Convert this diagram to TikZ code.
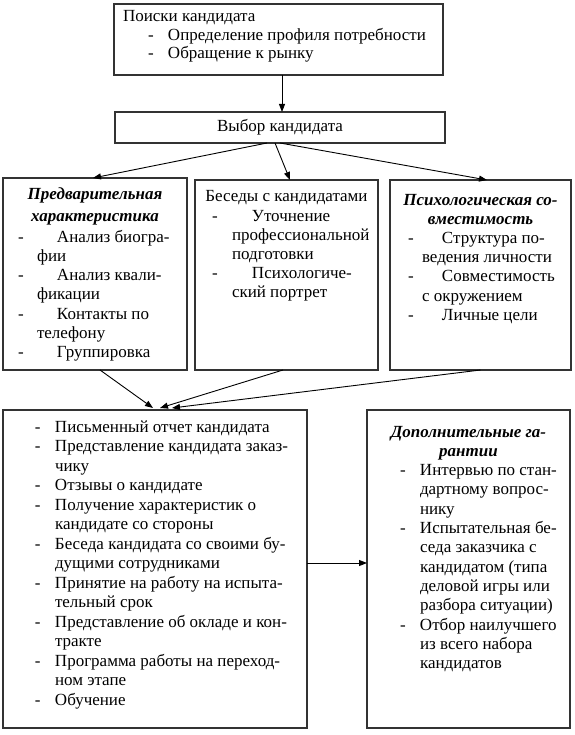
\documentclass[tikz,border=0pt]{standalone}
\usepackage{fontspec}
\setmainfont{Liberation Serif}
\usetikzlibrary{arrows.meta}
\newcommand{\dl}[3]{\makebox[#2][l]{\hspace*{#1}-}#3}
\tikzset{
  box/.style={draw=black!80, line width=1.2pt, rectangle, anchor=north west, inner sep=0pt, outer sep=0pt},
  txt/.style={anchor=base west, inner sep=0pt, outer sep=0pt},
  arr/.style={line width=0.9pt, -{Triangle[length=8pt,width=6pt]}}
}
\begin{document}
\begin{tikzpicture}[x=1pt,y=-1pt]
\useasboundingbox (0,0) rectangle (574,735);
% boxes
\node[box, minimum width=329pt, minimum height=71pt] (top) at (114,4) {};
\node[box, minimum width=330pt, minimum height=31pt, font=\fontsize{17}{19}\selectfont] (vybor) at (115,112) {Выбор кандидата};
\node[box, minimum width=184pt, minimum height=192pt] (left) at (3,178) {};
\node[box, minimum width=183pt, minimum height=190pt] (mid) at (195,180) {};
\node[box, minimum width=181pt, minimum height=190pt] (right) at (390,180) {};
\node[box, minimum width=304pt, minimum height=318pt] (bl) at (3,410) {};
\node[box, minimum width=203pt, minimum height=318pt] (br) at (367,410) {};
% texts
\node[txt] (ttop) at (123,22) {\parbox[t]{400pt}{\fontsize{17}{18.5}\selectfont
Поиски кандидата\\
\dl{25pt}{45pt}{Определение профиля потребности}\\
\dl{25pt}{45pt}{Обращение к рынку}}};
\node[txt] (tleft) at (3,200) {\parbox[t]{400pt}{\fontsize{17}{19.2}\selectfont
\makebox[184pt][c]{\bfseries\itshape Предварительная}\\[2pt]
\makebox[184pt][c]{\bfseries\itshape характеристика}\\[2pt]
\dl{15pt}{54pt}{Анализ биогра-}\\
\hspace*{34pt}фии\\
\dl{15pt}{54pt}{Анализ квали-}\\
\hspace*{34pt}фикации\\
\dl{15pt}{54pt}{Контакты по}\\
\hspace*{34pt}телефону\\
\dl{15pt}{54pt}{Группировка}}};
\node[txt] (tmid) at (195,202) {\parbox[t]{400pt}{\fontsize{17}{19.2}\selectfont
\makebox[183pt][c]{Беседы с кандидатами}\\
\dl{17pt}{57pt}{Уточнение}\\
\hspace*{37pt}профессиональной\\
\hspace*{37pt}подготовки\\
\dl{17pt}{57pt}{Психологиче-}\\
\hspace*{37pt}ский портрет}};
\node[txt] (tright) at (390,205) {\parbox[t]{400pt}{\fontsize{17}{19.2}\selectfont
\makebox[181pt][c]{\bfseries\itshape Психологическая со-}\\
\makebox[181pt][c]{\bfseries\itshape вместимость}\\
\dl{18pt}{52pt}{Структура по-}\\
\hspace*{32pt}ведения личности\\
\dl{18pt}{52pt}{Совместимость}\\
\hspace*{32pt}с окружением\\
\dl{18pt}{52pt}{Личные цели}}};
\node[txt] (tbl) at (3,432) {\parbox[t]{400pt}{\fontsize{17}{19.5}\selectfont
\dl{32pt}{52pt}{Письменный отчет кандидата}\\
\dl{32pt}{52pt}{Представление кандидата заказ-}\\
\hspace*{52pt}чику\\
\dl{32pt}{52pt}{Отзывы о кандидате}\\
\dl{32pt}{52pt}{Получение характеристик о}\\
\hspace*{52pt}кандидате со стороны\\
\dl{32pt}{52pt}{Беседа кандидата со своими бу-}\\
\hspace*{52pt}дущими сотрудниками\\
\dl{32pt}{52pt}{Принятие на работу на испыта-}\\
\hspace*{52pt}тельный срок\\
\dl{32pt}{52pt}{Представление об окладе и кон-}\\
\hspace*{52pt}тракте\\
\dl{32pt}{52pt}{Программа работы на переход-}\\
\hspace*{52pt}ном этапе\\
\dl{32pt}{52pt}{Обучение}}};
\node[txt] (tbr) at (367,437) {\parbox[t]{400pt}{\fontsize{17}{19.3}\selectfont
\makebox[203pt][c]{\bfseries\itshape Дополнительные га-}\\
\makebox[203pt][c]{\bfseries\itshape рантии}\\
\dl{33pt}{53pt}{Интервью по стан-}\\
\hspace*{53pt}дартному вопрос-\\
\hspace*{53pt}нику\\
\dl{33pt}{53pt}{Испытательная бе-}\\
\hspace*{53pt}седа заказчика с\\
\hspace*{53pt}кандидатом (типа\\
\hspace*{53pt}деловой игры или\\
\hspace*{53pt}разбора ситуации)\\
\dl{33pt}{53pt}{Отбор наилучшего}\\
\hspace*{53pt}из всего набора\\
\hspace*{53pt}кандидатов}};
% connectors
\draw[arr] ([xshift=3.5pt]top.south) -- ([xshift=2pt]vybor.north);
\draw[arr] ([xshift=-13pt]vybor.south) -- ([xshift=-2pt]left.north);
\draw[arr] ([xshift=-5pt]vybor.south) -- ([xshift=3.5pt]mid.north);
\draw[arr] (vybor.south) -- ([xshift=6.5pt]right.north);
\draw[arr] ([xshift=5pt]left.south) -- ([xshift=-2pt,yshift=2pt]bl.north);
\draw[arr] ([xshift=-3.5pt]mid.south) -- ([xshift=5pt,yshift=2pt]bl.north);
\draw[arr] (right.south) -- ([xshift=17pt,yshift=2pt]bl.north);
\draw[arr] ([yshift=6pt]bl.east) -- ([yshift=6pt]br.west);
\end{tikzpicture}
\end{document}
